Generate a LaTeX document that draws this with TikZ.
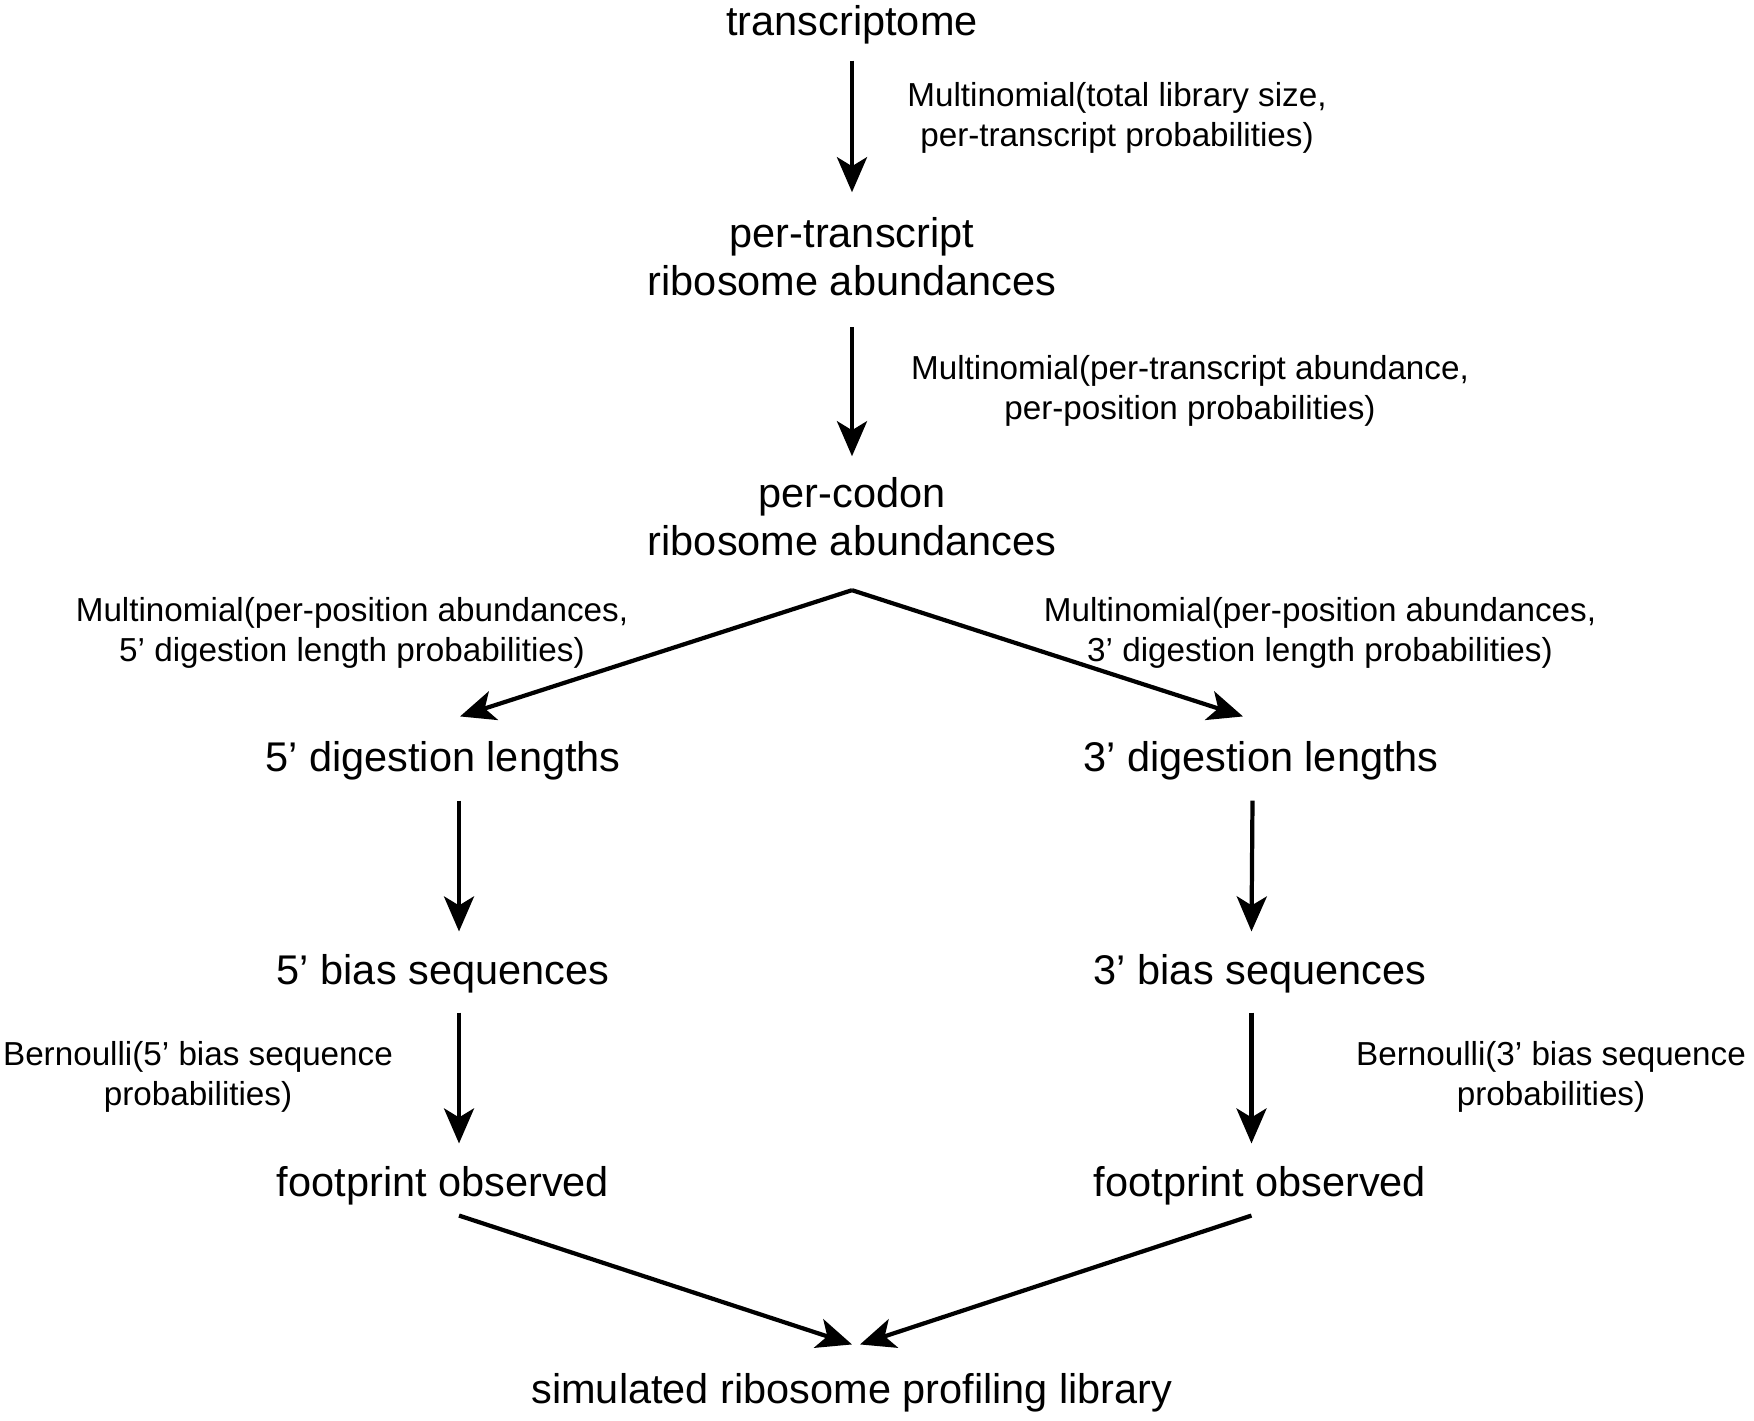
\documentclass[tikz,border=0pt]{standalone}
\usepackage{fontspec}
\setmainfont{Liberation Sans}
\usetikzlibrary{
  	positioning,
  	arrows.meta,
  	calc
  }
\tikzstyle{stage}=[inner sep=0pt,align=center,font=\fontsize{11.8}{13.66}\selectfont]
\tikzstyle{law}=[inner sep=0pt,align=center,font=\fontsize{9.45}{11.38}\selectfont]
\tikzstyle{arr}=[line width=1.2pt,-{Stealth[length=0.35cm,width=0.3cm,inset=0.09cm]}]

\begin{document}
\begin{tikzpicture}[x=0.01cm,y=-0.01cm]
  \useasboundingbox (0,0) rectangle (1754,1421);
  \node[stage] (trans) at (852,24.5) {transcriptome};
  \node[stage] (pertr) at (852,256.2) {per-transcript\\ribosome abundances};
  \node[stage] (percod) at (852,516.2) {per-codon\\ribosome abundances};
  \node[law] (lab1) at (1117,117.5) {Multinomial(total library size,\\per-transcript probabilities)};
  \node[law] (lab2) at (1190,390.5) {Multinomial(per-transcript abundance,\\per-position probabilities)};
%
  \node[stage] (dig5) at (443,760.5) {5’ digestion lengths};
  \path (dig5)++(818,0) node[stage] (dig3) {3’ digestion lengths};
  \node[stage] (bias5) at (443,973.5) {5’ bias sequences};
  \path (bias5)++(817,0) node[stage] (bias3) {3’ bias sequences};
  \node[stage] (foot5) at (443,1185.5) {footprint observed};
  \path (foot5)++(817,0) node[stage] (foot3) {footprint observed};
  \node[stage] (lib) at (852,1392.5) {simulated ribosome profiling library};
  \node[law] (lab5) at (352,632.7) {Multinomial(per-position abundances,\\5’ digestion length probabilities)};
  \node[law] (lab3) at (1320,632.7) {Multinomial(per-position abundances,\\3’ digestion length probabilities)};
  \node[law] (bern5) at (198,1076.7) {Bernoulli(5’ bias sequence\\probabilities)};
  \node[law] (bern3) at (1551,1076.7) {Bernoulli(3’ bias sequence\\probabilities)};
%
  \draw[arr] ([yshift=-0.16cm]trans.south) -- ([yshift=0.24cm]pertr.north);
  \draw[arr] ([yshift=-0.31cm]pertr.south) -- ([yshift=0.2cm]percod.north);
  \draw[arr] ([yshift=-0.34cm]percod.south) -- ([xshift=0.17cm,yshift=0.24cm]dig5.north);
  \draw[arr] ([yshift=-0.34cm]percod.south) -- ([xshift=-0.18cm,yshift=0.24cm]dig3.north);
  \draw[arr] ([xshift=0.16cm,yshift=-0.2cm]dig5.south) -- ([xshift=0.16cm,yshift=0.22cm]bias5.north);
  \draw[arr] ([xshift=-0.085cm,yshift=-0.2cm]dig3.south) -- ([xshift=-0.085cm,yshift=0.22cm]bias3.north);
  \draw[arr] ([xshift=0.16cm,yshift=-0.19cm]bias5.south) -- ([xshift=0.16cm,yshift=0.22cm]foot5.north);
  \draw[arr] ([xshift=-0.085cm,yshift=-0.19cm]bias3.south) -- ([xshift=-0.085cm,yshift=0.22cm]foot3.north);
  \draw[arr] ([xshift=0.16cm,yshift=-0.1cm]foot5.south) -- ([yshift=0.28cm]lib.north);
  \draw[arr] ([xshift=-0.085cm,yshift=-0.1cm]foot3.south) -- ([xshift=0.08cm,yshift=0.28cm]lib.north);
\end{tikzpicture}
\end{document}
